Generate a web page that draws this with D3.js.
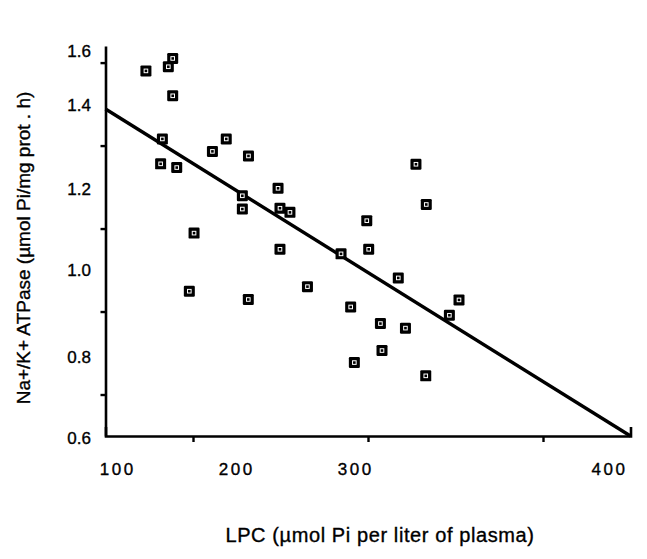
<!DOCTYPE html>
<html>
<head>
<meta charset="utf-8">
<script src="https://cdn.jsdelivr.net/npm/d3@7"></script>
<style>
  body { margin: 0; background: #fff; }
  text { font-family: "Liberation Sans", Arial, sans-serif; fill: #000; stroke: #000; stroke-width: 0.35px; }
</style>
</head>
<body>
<div id="plot"></div>
<script>
// LPC vs Na+/K+ ATPase scatter with fitted line

// points
const lpc = [123.1, 135.9, 138.4, 138.4, 132.5, 131.5, 140.7, 161.1, 169.0, 181.7,
             198.6, 178.2, 178.2, 199.7, 205.4, 150.6, 199.7, 147.9, 181.6, 215.4,
             234.6, 249.3, 250.4, 267.3, 240.1, 257.1, 271.4, 258.0, 242.2, 277.4,
             283.3, 296.5, 302.0, 283.0];
const atpase = [1.480, 1.490, 1.510, 1.420, 1.316, 1.256, 1.247, 1.286, 1.316, 1.275,
                1.197, 1.179, 1.147, 1.149, 1.139, 1.089, 1.050, 0.949, 0.929, 0.960,
                1.039, 1.119, 1.050, 0.981, 0.911, 0.871, 0.860, 0.806, 0.777, 1.255,
                1.158, 0.891, 0.928, 0.745];

// regression line end points
const fitX = [100, 400];
const fitY = [1.388, 0.6];

// tick marks sit between the labels, labels are where the print put them
const xTicks = [150, 250, 350];
const xTickLabels = ["100", "200", "300", "400"];
const xLabelAt = [107, 175, 243, 388];
const yTicks = [0.7, 0.9, 1.1, 1.3, 1.5];
const yTickLabels = ["1.6", "1.4", "1.2", "1.0", "0.8", "0.6"];
const yLabelAt = [1.528, 1.398, 1.195, 1.0, 0.791, 0.595];

const width = 647, height = 559;

const svg = d3.select("#plot")
  .append("svg")
  .attr("width", width)
  .attr("height", height);

const x = d3.scaleLinear().domain([100, 400]).range([105.5, 630.5]);
const y = d3.scaleLinear().domain([0.6, 1.54]).range([436, 46]);

// x axis, ticks only
const xAxis = svg.append("g")
  .attr("transform", "translate(0," + y(0.6) + ")")
  .call(d3.axisBottom(x).tickValues(xTicks).tickFormat("").tickSize(6).tickSizeOuter(-9));
xAxis.select(".domain").attr("stroke-width", 2.6);
xAxis.selectAll(".tick line").attr("stroke-width", 2.4);

// y axis, ticks only
const yAxis = svg.append("g")
  .attr("transform", "translate(" + x(100) + ",0)")
  .call(d3.axisLeft(y).tickValues(yTicks).tickFormat("").tickSize(5).tickSizeOuter(0));
yAxis.select(".domain").attr("stroke-width", 2.6);
yAxis.selectAll(".tick line").attr("stroke-width", 2.4);

// tick labels
svg.append("g")
  .selectAll("text")
  .data(xTickLabels).enter()
  .append("text")
  .attr("x", (d, i) => x(xLabelAt[i]))
  .attr("y", 475)
  .attr("text-anchor", "middle")
  .style("font-size", "17px")
  .style("letter-spacing", "2.5px")
  .text(d => d);

svg.append("g")
  .selectAll("text")
  .data(yTickLabels).enter()
  .append("text")
  .attr("x", 91)
  .attr("y", (d, i) => y(yLabelAt[i]))
  .attr("dy", "0.35em")
  .attr("text-anchor", "end")
  .style("font-size", "17px")
  .text(d => d);

// fitted line
svg.append("path")
  .datum(fitX.map((d, i) => [d, fitY[i]]))
  .attr("d", d3.line().x(d => x(d[0])).y(d => y(d[1])))
  .attr("fill", "none")
  .attr("stroke", "#000")
  .attr("stroke-width", 3.4);

// square markers
const pts = svg.append("g")
  .selectAll("g")
  .data(lpc.map((d, i) => [d, atpase[i]])).enter()
  .append("g")
  .attr("transform", d => "translate(" + x(d[0]) + "," + y(d[1]) + ")");

pts.append("rect")
  .attr("x", -5.5).attr("y", -5.5)
  .attr("width", 11).attr("height", 11)
  .attr("rx", 1.2)
  .attr("fill", "#000");

pts.append("rect")
  .attr("x", -1.8).attr("y", -1.8)
  .attr("width", 3.6).attr("height", 3.6)
  .attr("fill", "none")
  .attr("stroke", "#fff")
  .attr("stroke-width", 1);

// axis titles
svg.append("text")
  .attr("transform", "translate(30,248) rotate(-90)")
  .attr("text-anchor", "middle")
  .style("font-size", "19px")
  .text("Na+/K+ ATPase (µmol Pi/mg prot . h)");

svg.append("text")
  .attr("x", 380)
  .attr("y", 542)
  .attr("text-anchor", "middle")
  .style("font-size", "20px")
  .style("letter-spacing", "0.6px")
  .text("LPC (µmol Pi per liter of plasma)");
</script>
</body>
</html>
